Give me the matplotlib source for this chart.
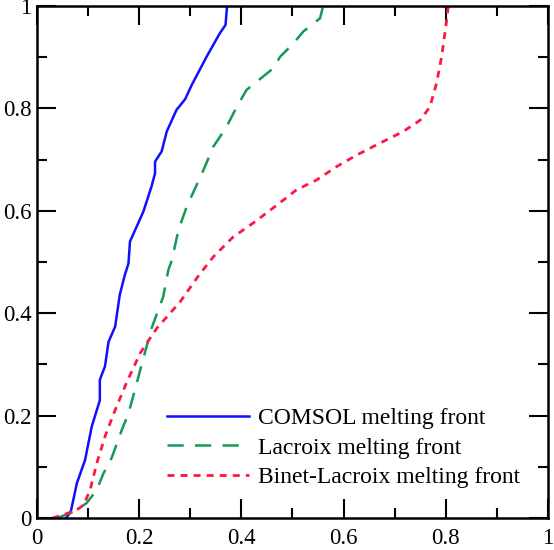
import matplotlib
matplotlib.use("Agg")
import matplotlib.pyplot as plt
from matplotlib.ticker import MultipleLocator

# COMSOL melting front
comsol_x = [0.057, 0.066, 0.071, 0.078, 0.094, 0.107, 0.123, 0.123, 0.133, 0.140, 0.153, 0.162,
            0.172, 0.179, 0.182, 0.195, 0.208, 0.224, 0.231, 0.231, 0.244, 0.254, 0.273, 0.290,
            0.303, 0.332, 0.358, 0.369, 0.372]
comsol_y = [0.0, 0.012, 0.035, 0.068, 0.113, 0.178, 0.230, 0.270, 0.296, 0.344, 0.374, 0.436,
            0.475, 0.497, 0.540, 0.569, 0.598, 0.647, 0.673, 0.696, 0.716, 0.755, 0.797, 0.818,
            0.846, 0.901, 0.947, 0.963, 1.0]

# Lacroix melting front
lacroix_x = [0.040, 0.071, 0.097, 0.117, 0.130, 0.146, 0.166, 0.179, 0.195, 0.211, 0.224, 0.247,
             0.257, 0.264, 0.277, 0.293, 0.326, 0.345, 0.371, 0.391, 0.410, 0.462, 0.476, 0.502,
             0.521, 0.554, 0.560]
lacroix_y = [0.0, 0.012, 0.029, 0.055, 0.087, 0.117, 0.172, 0.204, 0.263, 0.322, 0.370, 0.432,
             0.484, 0.504, 0.563, 0.608, 0.680, 0.725, 0.764, 0.803, 0.836, 0.878, 0.901, 0.927,
             0.950, 0.976, 1.0]

# Binet-Lacroix melting front
binet_x = [0.030, 0.051, 0.078, 0.091, 0.104, 0.117, 0.133, 0.153, 0.176, 0.202, 0.234, 0.280,
           0.316, 0.345, 0.384, 0.423, 0.472, 0.508, 0.547, 0.586, 0.626, 0.671, 0.717, 0.750,
           0.769, 0.782, 0.792, 0.801, 0.805]
binet_y = [0.0, 0.006, 0.016, 0.025, 0.055, 0.107, 0.159, 0.211, 0.266, 0.322, 0.370, 0.422,
           0.473, 0.510, 0.549, 0.576, 0.613, 0.641, 0.660, 0.686, 0.709, 0.732, 0.755, 0.777,
           0.803, 0.849, 0.901, 0.966, 1.0]

labels = ["COMSOL melting front", "Lacroix melting front", "Binet-Lacroix melting front"]
ticks = [0, 0.2, 0.4, 0.6, 0.8, 1]
tick_labels = ["0", "0.2", "0.4", "0.6", "0.8", "1"]

plt.rcParams['font.family'] = ['Liberation Serif', 'DejaVu Serif']

fig = plt.figure(figsize=(5.54, 5.50), dpi=100)
ax = fig.add_axes([0.0668, 0.0582, 0.9222, 0.9309])

ax.plot(comsol_x, comsol_y, color='#1010ff', lw=1.8, label=labels[0])
ax.plot(lacroix_x, lacroix_y, color='#149a55', lw=1.8, dashes=(6.5, 4.5), label=labels[1])
ax.plot(binet_x, binet_y, color='#ff1744', lw=2.0, dashes=(2.5, 2.2), label=labels[2])

ax.set_xlim(0, 1)
ax.set_ylim(0, 1)
ax.set_xticks(ticks)
ax.set_xticklabels(tick_labels)
ax.set_yticks(ticks)
ax.set_yticklabels(tick_labels)
ax.xaxis.set_minor_locator(MultipleLocator(0.1))
ax.yaxis.set_minor_locator(MultipleLocator(0.1))
ax.tick_params(which='both', direction='in', top=True, right=True, width=1.5, labelsize=16.5)
ax.tick_params(which='major', length=13.5)
ax.tick_params(which='minor', length=7.5)
ax.tick_params(axis='x', pad=7)
ax.tick_params(axis='y', pad=4)
for s in ax.spines.values():
    s.set_linewidth(1.8)

ax.legend(loc='lower left', bbox_to_anchor=(0.255, 0.058), frameon=False, fontsize=17,
          handlelength=3.45, handletextpad=0.38, labelspacing=0.34, borderpad=0, borderaxespad=0)

fig.savefig("out.png", dpi=100)
